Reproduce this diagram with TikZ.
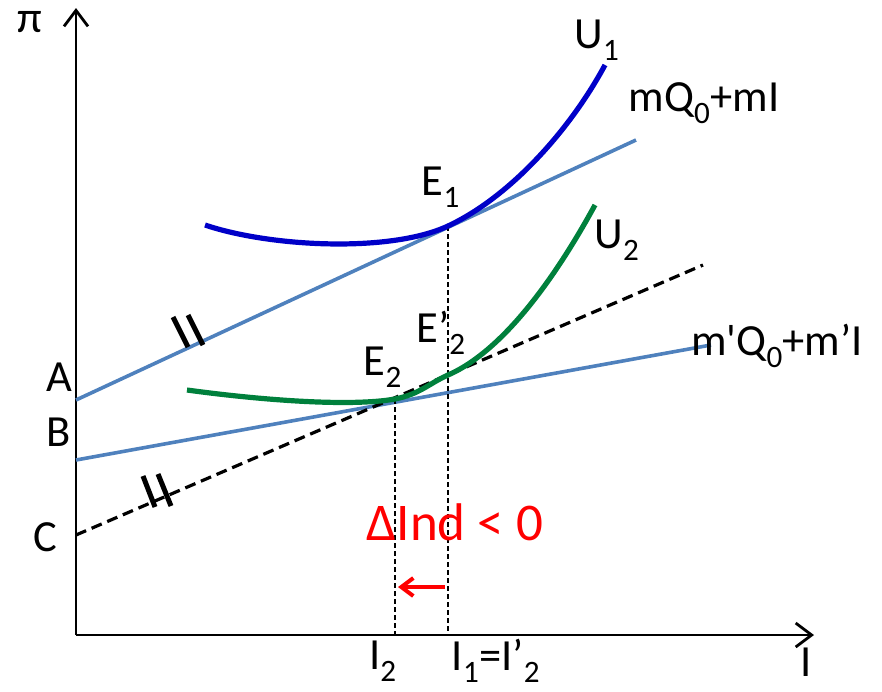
\documentclass[tikz,border=0pt]{standalone}
\usepackage{fontspec}
\setmainfont{Carlito}
\usepackage{xcolor}
\usetikzlibrary{arrows.meta,positioning,calc}
\definecolor{lineblue}{RGB}{79,129,189}
\definecolor{curveblue}{RGB}{0,0,200}
\definecolor{curvegreen}{RGB}{0,128,60}

\begin{document}
\begin{tikzpicture}[
        x=1pt, y=-1pt,
        axis/.style={-{Straight Barb[length=16pt,width=24pt]}, line width=2.8pt},
        budget/.style={lineblue, line width=3.6pt},
        shifted/.style={black, line width=3.2pt, dash pattern=on 11pt off 6pt},
        guide/.style={black, line width=1.5pt, dash pattern=on 5pt off 3pt},
        tick/.style={black, line width=5pt},
        lbl/.style={font=\fontsize{44.5}{52}\selectfont, inner sep=0pt},
        curve/.style={line width=5.2pt}
    ]
        \useasboundingbox (0,0) rectangle (882,691);
        % axes
        \coordinate (O) at (76,635);
        \coordinate (ytop) at (76,8);
        \coordinate (xend) at (814,635);
        \draw[axis] (O) -- (ytop);
        \draw[axis] (O) -- (xend);
        \node[lbl] (pi) at (30,22) {π};
        \node[lbl] (ilab) at (806,662) {I};
        % lines
        \coordinate (A) at (76,400);
        \coordinate (Aend) at (636,140);
        \coordinate (B) at (76,460);
        \coordinate (Bend) at (711,345);
        \coordinate (C) at (76,535);
        \coordinate (Cend) at (703,265);
        \draw[budget] (A) -- (Aend);
        \draw[budget] (B) -- (Bend);
        \draw[shifted] (C) -- (Cend);
        \node[lbl] (alab) at (59,377) {A};
        \node[lbl] (blab) at (59,432) {B};
        \node[lbl] (clab) at (45,537) {C};
        % equilibria
        \coordinate (E1) at (448,226);
        \coordinate (E2) at (395,399);
        \coordinate (E2p) at (448,375);
        \coordinate (I1) at (448,635);
        \coordinate (I2) at (395,635);
        \draw[guide] (E1) -- (I1);
        \draw[guide] (E2) -- (I2);
        % indifference curves
        \draw[curve, curveblue] (205,225) .. controls (270,247) and (390,253) .. (E1)
            .. controls (510,197) and (570,130) .. (605,65);
        \draw[curve, curvegreen] (187,390) .. controls (260,400) and (350,407) .. (E2)
            .. controls (420,394) and (428,384) .. (E2p)
            .. controls (510,348) and (565,260) .. (595,205);
        % tick marks
        \draw[tick] (173,317) -- (188,347);
        \draw[tick] (188,315) -- (203,345);
        \draw[tick] (143,476) -- (155,507);
        \draw[tick] (158,474) -- (171,506);
        % labels
        \node[lbl] (u1) at (597,40) {U\textsubscript{1}};
        \node[lbl] (u2) at (617,240) {U\textsubscript{2}};
        \node[lbl] (e1) at (441,187) {E\textsubscript{1}};
        \node[lbl] (e2p) at (441,333) {E’\textsubscript{2}};
        \node[lbl] (e2) at (383,367) {E\textsubscript{2}};
        \node[lbl] (mline) at (704,103) {mQ\textsubscript{0}+mI};
        \node[lbl] (mpline) at (777,346) {m\textquotesingle Q\textsubscript{0}+m’I};
        \node[lbl] (i2) at (383,661) {I\textsubscript{2}};
        \node[lbl] (i1) at (496,661) {I\textsubscript{1}=I’\textsubscript{2}};
        % change in I
        \node[lbl, red, font=\fontsize{53}{60}\selectfont] (dind) at (455,522) {ΔInd < 0};
        \coordinate (arr0) at (445,587);
        \coordinate (arr1) at (398,587);
        \draw[red, line width=4pt, -{Straight Barb[length=12pt,width=18pt]}] (arr0) -- (arr1);
    \end{tikzpicture}
\end{document}
